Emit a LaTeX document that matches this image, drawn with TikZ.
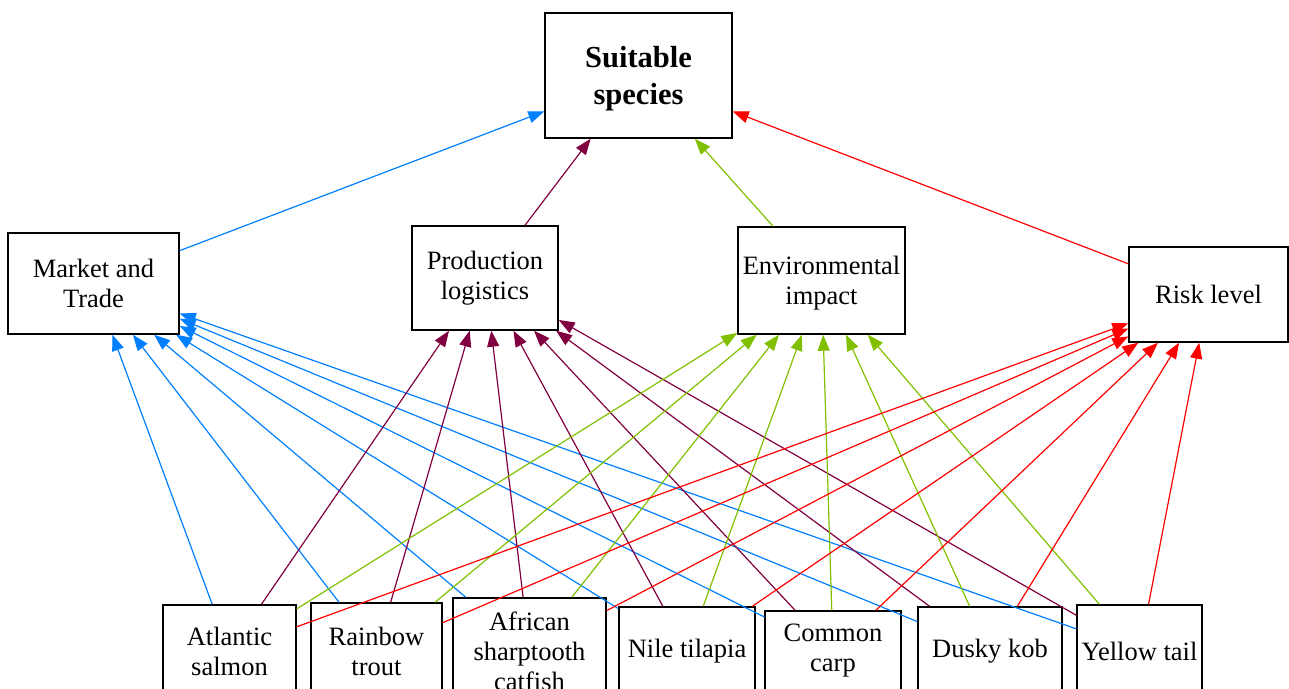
\documentclass[tikz,border=0pt]{standalone}
\usepackage{fontspec}
\setmainfont{Liberation Serif}
\usetikzlibrary{arrows.meta}

\definecolor{mktblue}{RGB}{0,128,255}
\definecolor{prodpurple}{RGB}{128,0,64}
\definecolor{envgreen}{RGB}{128,192,0}
\definecolor{riskred}{RGB}{255,0,0}

\begin{document}
\begin{tikzpicture}[x=1pt,y=-1pt,->,>={Triangle[length=16pt,width=12pt]},
                    main node/.style={draw,fill=white,line width=1.4pt,align=center,inner sep=2pt,
                                      font=\fontsize{26.5}{30}\selectfont},
                    goal node/.style={main node,font=\fontsize{30.5}{37}\selectfont\bfseries},
                    mkt edge/.style={color=mktblue,line width=1.2pt},
                    prod edge/.style={color=prodpurple,line width=1.2pt},
                    env edge/.style={color=envgreen,line width=1.2pt},
                    risk edge/.style={color=riskred,line width=1.2pt}]

  \useasboundingbox (0,0) rectangle (1289,688);
  \clip (0,0) rectangle (1289,688);

  % goal
  \node[goal node,text depth=0pt,minimum width=187pt,minimum height=125pt] (suit) at (638.5,75.5) {Suitable\\species};

  % criteria
  \node[main node,minimum width=171pt,minimum height=101pt] (market) at (93.5,283.5) {Market and\\Trade};
  \node[main node,minimum width=146pt,minimum height=104pt] (prod) at (485,278) {Production\\logistics};
  \node[main node,text depth=0pt,minimum width=167pt,minimum height=107pt] (env) at (821.5,280.5) {Environmental\\impact};
  \node[main node,minimum width=159pt,minimum height=95pt] (risk) at (1208.5,294.5) {Risk level};

  % species
  \node[main node,minimum width=133pt,minimum height=92pt] (salmon) at (229.5,651) {Atlantic\\salmon};
  \node[main node,minimum width=131pt,minimum height=96pt] (trout) at (376.5,651) {Rainbow\\trout};
  \node[main node,minimum width=153pt,minimum height=106pt] (catfish) at (529.5,651) {African\\sharptooth\\catfish};
  \node[main node,minimum width=136pt,minimum height=88pt] (tilapia) at (687,651) {Nile tilapia};
  \node[main node,minimum width=136pt,minimum height=80pt] (carp) at (833,651) {Common\\carp};
  \node[main node,minimum width=144pt,minimum height=88pt] (kob) at (990,651) {Dusky kob};
  \node[main node,minimum width=125pt,minimum height=92pt] (yellow) at (1139.5,651) {Yellow tail};

  \path[mkt edge]
    (market) edge (suit)
    (salmon) edge (market)
    (trout) edge (market)
    (catfish) edge (market)
    (tilapia) edge (market)
    (carp) edge (market)
    (kob) edge (market)
    (yellow) edge (market);

  \path[prod edge]
    (prod) edge (suit)
    (salmon) edge (prod)
    (trout) edge (prod)
    (catfish) edge (prod)
    (tilapia) edge (prod)
    (carp) edge (prod)
    (kob) edge (prod)
    (yellow) edge (prod);

  \path[env edge]
    (env) edge (suit)
    (salmon) edge (env)
    (trout) edge (env)
    (catfish) edge (env)
    (tilapia) edge (env)
    (carp) edge (env)
    (kob) edge (env)
    (yellow) edge (env);

  \path[risk edge]
    (risk) edge (suit)
    (salmon) edge (risk)
    (trout) edge (risk)
    (catfish) edge (risk)
    (tilapia) edge (risk)
    (carp) edge (risk)
    (kob) edge (risk)
    (yellow) edge (risk);
\end{tikzpicture}
\end{document}
